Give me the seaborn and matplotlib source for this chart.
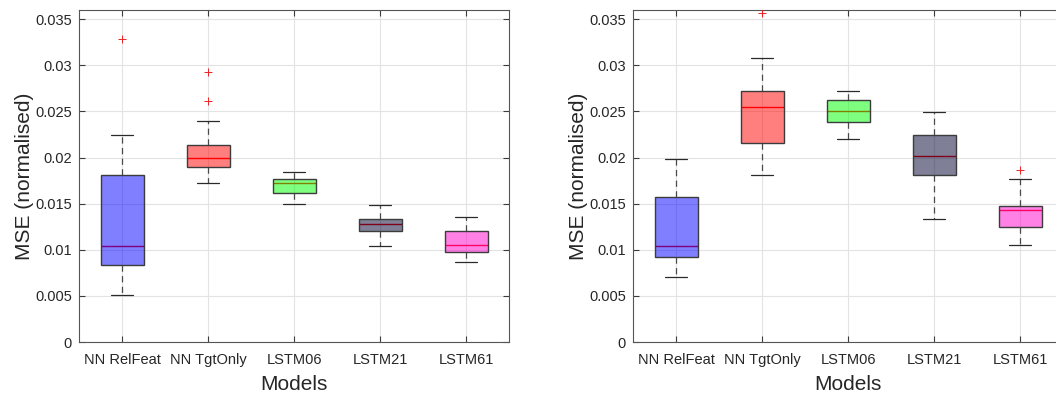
import numpy as np
import pandas as pd
import matplotlib
matplotlib.use("Agg")
import matplotlib.pyplot as plt
import seaborn as sns

models = ["NN RelFeat", "NN TgtOnly", "LSTM06", "LSTM21", "LSTM61"]
box_colors = ["#0000ff", "#ff0000", "#00ff00", "#000033", "#ff05cc"]

# Left panel: five-number summaries
left_low = [0.0051, 0.0172, 0.0150, 0.0104, 0.0087]
left_q1 = [0.0083, 0.0190, 0.0162, 0.0120, 0.0098]
left_med = [0.0104, 0.0199, 0.0172, 0.0128, 0.0105]
left_q3 = [0.0181, 0.0214, 0.0177, 0.0133, 0.0120]
left_high = [0.0224, 0.0240, 0.0184, 0.0149, 0.0136]
left_out_models = ["NN RelFeat", "NN TgtOnly", "NN TgtOnly"]
left_out_vals = [0.0329, 0.0293, 0.0261]

# Right panel
right_low = [0.0070, 0.0181, 0.0220, 0.0133, 0.0105]
right_q1 = [0.0092, 0.0216, 0.0239, 0.0181, 0.0125]
right_med = [0.0104, 0.0255, 0.0250, 0.0202, 0.0143]
right_q3 = [0.0157, 0.0272, 0.0262, 0.0224, 0.0147]
right_high = [0.0198, 0.0308, 0.0272, 0.0249, 0.0177]
right_out_models = ["NN TgtOnly", "LSTM61"]
right_out_vals = [0.0357, 0.0186]

yticks = [0, 0.005, 0.01, 0.015, 0.02, 0.025, 0.03, 0.035]
ytick_labels = ["0", "0.005", "0.01", "0.015", "0.02", "0.025", "0.03", "0.035"]

sns.set_style("ticks")
plt.rcParams["font.family"] = ["Liberation Sans", "DejaVu Sans"]

EDGE = "#3c3c3c"
TXT = "#262626"


def long_frame(low, q1, med, q3, high):
    rows = []
    for i, m in enumerate(models):
        for v in (low[i], q1[i], med[i], q3[i], high[i]):
            rows.append({"model": m, "mse": v})
    return pd.DataFrame(rows)


def draw(ax, low, q1, med, q3, high, out_m, out_v):
    df = long_frame(low, q1, med, q3, high)
    sns.boxplot(
        data=df, x="model", y="mse", hue="model", order=models, hue_order=models,
        palette=box_colors, width=0.5, whis=(0, 100), showfliers=False,
        dodge=False, legend=False, ax=ax, linecolor=EDGE, linewidth=1.0,
        whiskerprops=dict(linestyle=(0, (5, 3.5)), color="#4a4a4a", linewidth=0.9),
        capprops=dict(color="#2a2a2a", linewidth=0.9),
        medianprops=dict(color="red", linewidth=1.0),
    )
    for c, col in zip(ax.containers, box_colors):
        rgb = matplotlib.colors.to_rgb(col)
        for b in c.boxes:
            b.set_facecolor((*rgb, 0.5))
            b.set_edgecolor(EDGE)
            b.set_zorder(2.2)
        for md in c.medians:
            md.set_color("red")
            md.set_zorder(2.0)
    od = pd.DataFrame({"model": out_m, "mse": out_v})
    sns.stripplot(data=od, x="model", y="mse", order=models, jitter=False,
                  marker="+", color="#ee2222", s=5.5, linewidth=0.7, ax=ax, zorder=3)

    ax.set_xlim(-0.5, 4.5)
    ax.set_ylim(0, 0.036)
    ax.set_yticks(yticks)
    ax.set_yticklabels(ytick_labels)
    ax.set_axisbelow(True)
    ax.grid(True, color="#e3e3e3", linewidth=0.8)
    ax.tick_params(direction="in", length=4, width=0.8, color=EDGE,
                   top=True, right=True, labelsize=10.5, labelcolor=TXT)
    ax.tick_params(axis="y", pad=5)
    ax.tick_params(axis="x", pad=8)
    for s in ax.spines.values():
        s.set_visible(True)
        s.set_color("#555555")
        s.set_linewidth(0.8)
    ax.set_xlabel("Models", fontsize=15, color=TXT, labelpad=6)
    ax.set_ylabel("MSE (normalised)", fontsize=15, color=TXT, labelpad=1)


fig = plt.figure(figsize=(10.56, 3.95), dpi=100)
ax1 = fig.add_axes([79 / 1056, 53 / 395, 430 / 1056, 332 / 395])
ax2 = fig.add_axes([633 / 1056, 53 / 395, 430 / 1056, 332 / 395])

draw(ax1, left_low, left_q1, left_med, left_q3, left_high, left_out_models, left_out_vals)
draw(ax2, right_low, right_q1, right_med, right_q3, right_high, right_out_models, right_out_vals)

fig.savefig("out.png", dpi=100)
